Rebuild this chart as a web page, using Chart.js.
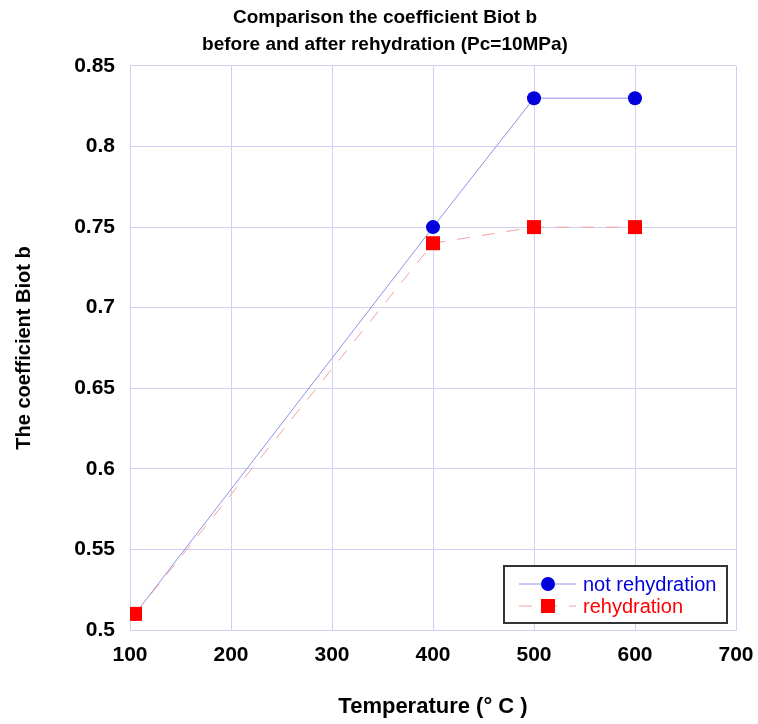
<!DOCTYPE html>
<html>
<head>
<meta charset="utf-8">
<script src="https://cdn.jsdelivr.net/npm/chart.js@4/dist/chart.umd.min.js"></script>
<style>
  body { margin: 0; background: #fff; }
  #wrap { width: 758px; height: 724px; }
</style>
</head>
<body>
<div id="wrap"><canvas id="biotChart" width="758" height="724"></canvas></div>
<script>
const temps = [105, 400, 500, 600];
const notRehydration = [0.51, 0.75, 0.83, 0.83];
const rehydration = [0.51, 0.74, 0.75, 0.75];
const xTicks = [100, 200, 300, 400, 500, 600, 700];
const yTicks = [0.5, 0.55, 0.6, 0.65, 0.7, 0.75, 0.8, 0.85];

const gridColor = '#d0d0f2';
const font = 'Liberation Sans, Arial, sans-serif';

// legend box drawn inside the plot, bottom right
const boxLegend = {
    id: 'boxLegend',
    afterDraw(chart) {
        const { ctx, chartArea } = chart;
        const w = 223, h = 57;
        const x = chartArea.right - 9 - w;
        const y = chartArea.bottom - 7 - h;
        ctx.save();
        ctx.fillStyle = '#fff';
        ctx.fillRect(x, y, w, h);
        ctx.strokeStyle = '#333';
        ctx.lineWidth = 2;
        ctx.strokeRect(x, y, w, h);
        ctx.font = '20px ' + font;
        ctx.textBaseline = 'middle';
        chart.data.datasets.forEach((ds, i) => {
            const cy = y + 18 + i * 22;
            ctx.strokeStyle = ds.borderColor;
            ctx.lineWidth = 1;
            ctx.setLineDash(ds.borderDash || []);
            ctx.beginPath();
            ctx.moveTo(x + 15, cy);
            ctx.lineTo(x + 72, cy);
            ctx.stroke();
            ctx.setLineDash([]);
            ctx.fillStyle = ds.pointBackgroundColor;
            if (ds.pointStyle === 'circle') {
                ctx.beginPath();
                ctx.arc(x + 44, cy, 7, 0, Math.PI * 2);
                ctx.fill();
            } else {
                ctx.fillRect(x + 37, cy - 7, 14, 14);
            }
            ctx.fillStyle = ds.textColor;
            ctx.fillText(ds.label, x + 79, cy + 1);
        });
        ctx.restore();
    }
};

new Chart(document.getElementById('biotChart'), {
    type: 'line',
    data: {
        datasets: [
            {
                label: 'not rehydration',
                data: temps.map((t, i) => ({ x: t, y: notRehydration[i] })),
                order: 1,
                borderColor: '#9090ea',
                borderWidth: 1,
                pointStyle: 'circle',
                pointRadius: 7,
                pointBackgroundColor: '#0000dd',
                pointBorderWidth: 0,
                textColor: '#0000dd'
            },
            {
                label: 'rehydration',
                data: temps.map((t, i) => ({ x: t, y: rehydration[i] })),
                order: 0,
                borderColor: '#f4a0a0',
                borderWidth: 1,
                borderDash: [13, 12],
                pointStyle: 'rect',
                pointRadius: 9.9,
                pointBackgroundColor: '#ff0000',
                pointBorderWidth: 0,
                textColor: '#ff0000'
            }
        ]
    },
    options: {
        responsive: false,
        animation: false,
        layout: { padding: { top: 0, right: 22, bottom: 4, left: 34 } },
        plugins: {
            legend: { display: false },
            tooltip: { enabled: false },
            title: {
                display: true,
                text: ['Comparison the coefficient Biot b', 'before and after rehydration (Pc=10MPa)'],
                color: '#000',
                font: { family: font, size: 19, weight: 'bold', lineHeight: 1.42 },
                padding: { top: 4, bottom: 8 }
            }
        },
        scales: {
            x: {
                type: 'linear',
                min: 100,
                max: 700,
                afterBuildTicks: axis => { axis.ticks = xTicks.map(v => ({ value: v })); },
                grid: { color: gridColor, drawTicks: false },
                border: { color: gridColor },
                ticks: { color: '#000', padding: 13, font: { family: font, size: 21, weight: 'bold' } },
                afterFit: axis => {
                    axis.height = 90;
                    axis.paddingRight = 0;
                },
                title: {
                    display: true,
                    text: 'Temperature (° C )',
                    color: '#000',
                    font: { family: font, size: 22, weight: 'bold' },
                    padding: { top: 0, bottom: 0 }
                }
            },
            y: {
                min: 0.5,
                max: 0.85,
                afterBuildTicks: axis => { axis.ticks = yTicks.map(v => ({ value: v })); },
                grid: { color: gridColor, drawTicks: false },
                border: { color: gridColor },
                ticks: {
                    color: '#000',
                    padding: 15,
                    font: { family: font, size: 21, weight: 'bold' },
                    callback: v => String(parseFloat(v.toFixed(2)))
                },
                afterFit: axis => { axis.width = 96; },
                title: {
                    display: true,
                    text: 'The coefficient Biot b',
                    color: '#000',
                    font: { family: font, size: 20, weight: 'bold' },
                    padding: { top: -22, bottom: 0 }
                }
            }
        }
    },
    plugins: [boxLegend]
});
</script>
</body>
</html>
